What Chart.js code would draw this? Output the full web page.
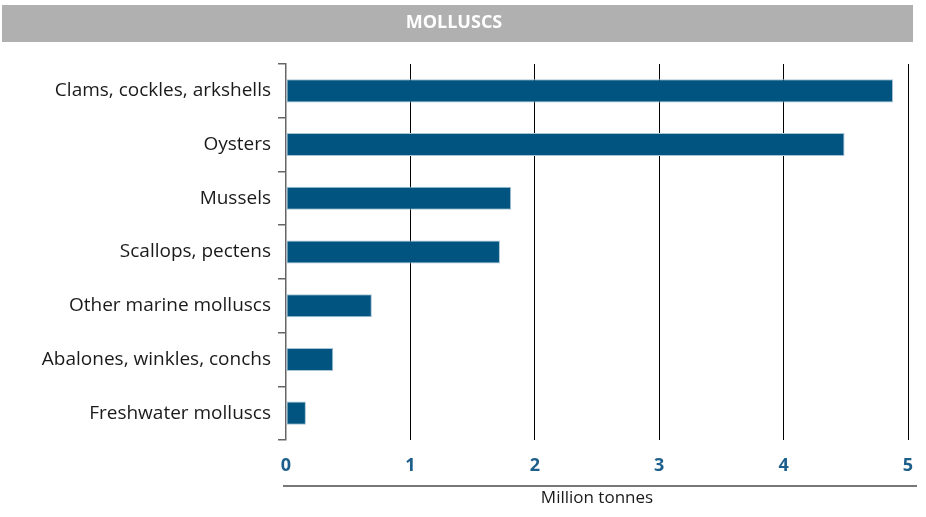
<!DOCTYPE html>
<html><head><meta charset="utf-8">
<script src="https://cdn.jsdelivr.net/npm/chart.js@4/dist/chart.umd.min.js"></script>
<style>html,body{margin:0;padding:0;background:#fff}#wrap{width:926px;height:517px}</style>
</head><body><div id="wrap"><canvas id="c" width="926" height="517"></canvas></div>
<script>
const categories = ["Clams, cockles, arkshells","Oysters","Mussels","Scallops, pectens","Other marine molluscs","Abalones, winkles, conchs","Freshwater molluscs"];
const values = [4.88, 4.49, 1.81, 1.72, 0.69, 0.38, 0.16];
const xTicks = [0,1,2,3,4,5];
const titleText = "MOLLUSCS";
const xTitle = "Million tonnes";

const decor = {
  id: 'decor',
  beforeDraw(chart) {
    const ctx = chart.ctx;
    ctx.save();
    ctx.fillStyle = '#b0b0b0';
    ctx.fillRect(2, 5, 911, 37);
    ctx.restore();
  },
  afterDraw(chart) {
    const ctx = chart.ctx;
    ctx.save();
    ctx.strokeStyle = '#777';
    ctx.lineWidth = 2;
    ctx.beginPath();
    ctx.moveTo(283, 486);
    ctx.lineTo(917, 486);
    ctx.stroke();
    ctx.restore();
  }
};

new Chart(document.getElementById('c'), {
  type: 'bar',
  data: {
    labels: categories,
    datasets: [{
      data: values,
      backgroundColor: '#00547f',
      borderColor: '#a9c3d6',
      borderWidth: 1,
      borderSkipped: false,
      barPercentage: 0.43,
      categoryPercentage: 1
    }]
  },
  options: {
    indexAxis: 'y',
    responsive: false,
    animation: false,
    layout: { padding: { left: 0, right: 18, top: 0, bottom: 5 } },
    plugins: {
      legend: { display: false },
      tooltip: { enabled: false },
      title: {
        display: true,
        text: titleText,
        color: '#ffffff',
        font: { family: 'Open Sans', size: 18, weight: 'bold' },
        padding: { top: 12, bottom: 30.4 }
      }
    },
    scales: {
      x: {
        min: 0, max: 5,
        afterBuildTicks(s) { s.ticks = xTicks.map(v => ({ value: v })); },
        afterFit(s) { s.height = 72; s.paddingLeft = 0; s.paddingRight = 0; },
        grid: {
          color: ctx => ctx.tick && ctx.tick.value === 0 ? 'rgba(0,0,0,0)' : '#000',
          lineWidth: 1,
          drawTicks: false
        },
        border: { display: false },
        ticks: {
          padding: 15,
          color: '#1d5f8a',
          font: { family: 'Open Sans', size: 18, weight: 'bold' }
        },
        title: {
          display: true,
          text: xTitle,
          color: '#1a1a1a',
          font: { family: 'Open Sans', size: 17 },
          padding: { top: 4, bottom: 4 }
        }
      },
      y: {
        afterFit(s) { s.width = 286; },
        grid: {
          offset: true,
          drawOnChartArea: false,
          drawTicks: true,
          tickLength: 8,
          color: '#666',
          lineWidth: 1.5
        },
        border: { display: true, color: '#666', width: 1.5 },
        ticks: {
          padding: 7,
          color: '#1a1a1a',
          font: { family: 'Open Sans', size: 19 }
        }
      }
    }
  },
  plugins: [decor]
});
</script></body></html>
